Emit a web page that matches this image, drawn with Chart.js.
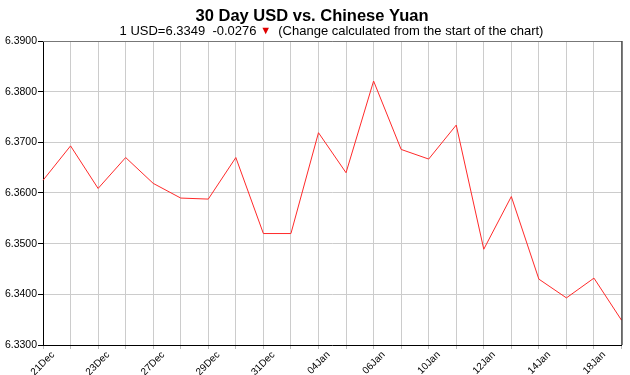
<!DOCTYPE html>
<html>
<head>
<meta charset="utf-8">
<script src="https://cdn.jsdelivr.net/npm/chart.js@4/dist/chart.umd.min.js"></script>
<style>
html,body{margin:0;padding:0;background:#fff;}
#wrap{position:relative;width:630px;height:375px;}
</style>
</head>
<body>
<div id="wrap"><canvas id="c" width="630" height="375"></canvas></div>
<script>
const titleText = "30 Day USD vs. Chinese Yuan";
const subtitleLeft = "1 USD=6.3349  -0.0276 ";
const subtitleArrow = "\u25BC";
const subtitleRight = "  (Change calculated from the start of the chart)";

const categories = ["21Dec","22Dec","23Dec","26Dec","27Dec","28Dec","29Dec","30Dec","31Dec","03Jan","04Jan","05Jan","06Jan","09Jan","10Jan","11Jan","12Jan","13Jan","14Jan","17Jan","18Jan","19Jan"];
const rates = [6.3625,6.3693,6.3609,6.3670,6.3619,6.3590,6.3588,6.3670,6.3520,6.3520,6.3719,6.3640,6.3821,6.3686,6.3667,6.3734,6.3489,6.3593,6.3430,6.3393,6.3432,6.3349];
const yTicks = [6.33,6.34,6.35,6.36,6.37,6.38,6.39];

const FONT = "'Liberation Sans', Arial, sans-serif";

const headerPlugin = {
  id: 'header',
  afterDraw(chart) {
    const ctx = chart.ctx;
    const a = chart.chartArea;
    ctx.save();
    ctx.lineWidth = 1;
    ctx.strokeStyle = '#777';
    ctx.beginPath(); ctx.moveTo(a.left, a.top + 0.5); ctx.lineTo(a.right, a.top + 0.5); ctx.stroke();
    ctx.strokeStyle = '#000';
    ctx.beginPath(); ctx.moveTo(a.right + 0.5, a.top); ctx.lineTo(a.right + 0.5, a.bottom); ctx.stroke();
    // title
    ctx.fillStyle = '#000';
    ctx.textBaseline = 'middle';
    ctx.textAlign = 'center';
    ctx.font = "bold 16.5px " + FONT;
    ctx.fillText(titleText, 312, 16);
    // subtitle
    ctx.textAlign = 'left';
    ctx.font = "13px " + FONT;
    const w1 = ctx.measureText(subtitleLeft).width;
    ctx.font = "11px " + FONT;
    const w2 = ctx.measureText(subtitleArrow).width;
    ctx.font = "13px " + FONT;
    const w3 = ctx.measureText(subtitleRight).width;
    let x = 331.5 - (w1 + w2 + w3) / 2;
    ctx.fillStyle = '#000';
    ctx.fillText(subtitleLeft, x, 31);
    x += w1;
    ctx.font = "11px " + FONT;
    ctx.fillStyle = '#e00000';
    ctx.fillText(subtitleArrow, x, 31);
    x += w2;
    ctx.font = "13px " + FONT;
    ctx.fillStyle = '#000';
    ctx.fillText(subtitleRight, x, 31);
    ctx.restore();
  }
};

new Chart(document.getElementById('c'), {
  type: 'line',
  data: {
    labels: categories,
    datasets: [{
      data: rates,
      borderColor: '#ff2a2a',
      borderWidth: 1,
      pointRadius: 0,
      tension: 0,
      fill: false
    }]
  },
  options: {
    responsive: false,
    animation: false,
    devicePixelRatio: 1,
    layout: { padding: { top: 41, right: 8, left: 0, bottom: 0 } },
    plugins: { legend: { display: false }, tooltip: { enabled: false }, title: { display: false } },
    scales: {
      x: {
        offset: false,
        grid: { color: '#cccccc', lineWidth: 1, drawTicks: true, tickLength: 4, tickColor: '#bbbbbb' },
        border: { color: '#000', width: 1 },
        ticks: {
          autoSkip: false,
          maxRotation: 45,
          minRotation: 45,
          padding: 0,
          labelOffset: 10,
          color: '#000',
          font: { family: FONT, size: 10 },
          callback: function(v, i) { return i % 2 === 0 ? categories[i] : ''; }
        },
        afterFit(s) { s.height = 30; }
      },
      y: {
        min: yTicks[0],
        max: yTicks[yTicks.length - 1],
        afterBuildTicks(s) { s.ticks = yTicks.map(v => ({ value: v })); },
        grid: { color: '#cccccc', lineWidth: 1, drawTicks: true, tickLength: 5, tickColor: '#000' },
        border: { color: '#000', width: 1 },
        ticks: {
          padding: 1,
          color: '#000',
          font: { family: FONT, size: 10.5 },
          callback: function(v) { return Number(v).toFixed(4); }
        },
        afterFit(s) { s.width = 43; }
      }
    }
  },
  plugins: [headerPlugin]
});
</script>
</body>
</html>
